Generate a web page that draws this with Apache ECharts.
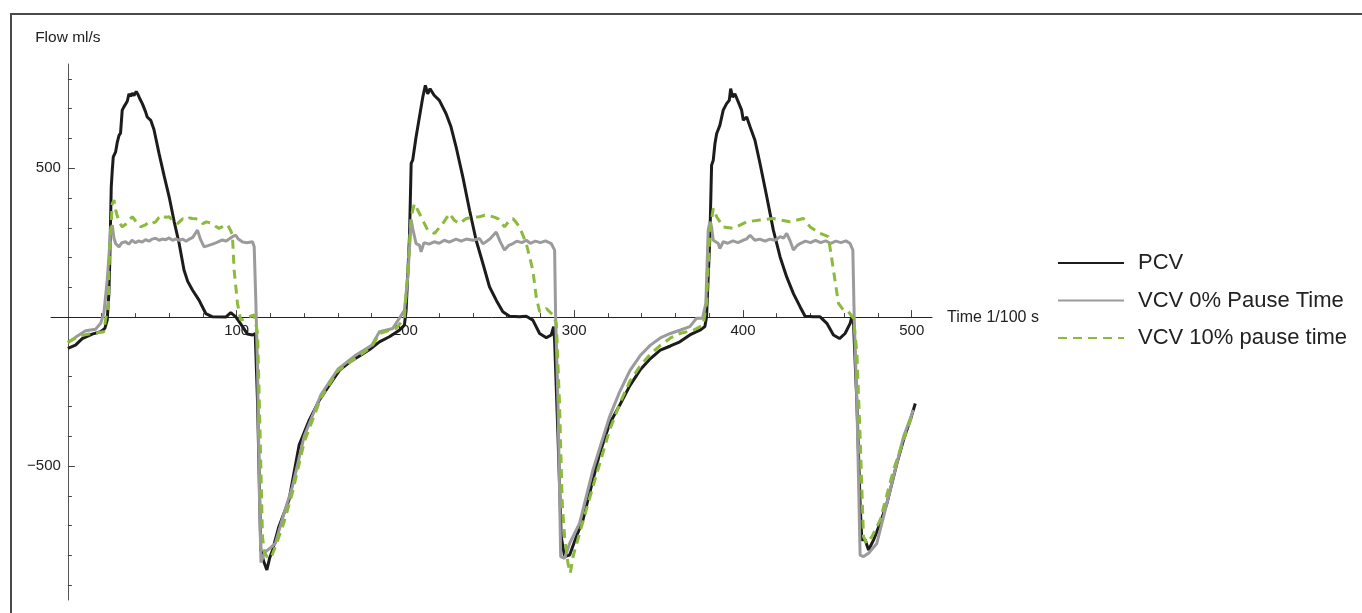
<!DOCTYPE html>
<html><head><meta charset="utf-8">
<script src="https://cdn.jsdelivr.net/npm/echarts@6/dist/echarts.min.js"></script>
<style>html,body{margin:0;padding:0;background:#fff}#c{width:1362px;height:613px}</style>
</head><body><div id="c"></div>
<script>
// ---- data (time in 1/100 s, flow in ml/s) ----
const seriesNames = ['PCV', 'VCV 0% Pause Time', 'VCV 10% pause time'];
const xMajorTicks = [100, 200, 300, 400, 500];
const xMinorTicks = [20,40,60,80,120,140,160,180,220,240,260,280,320,340,360,380,420,440,460,480];
const yMajorTicks = [-500, 500];
const yMinorTicks = [-900,-800,-700,-600,-400,-300,-200,-100,100,200,300,400,600,700,800];
const xAxisTitle = 'Time 1/100 s';
const yAxisTitle = 'Flow ml/s';
const xRange = [-10, 512];
const yRange = [-950, 850];

const pcv = [[0,-105],[4.5,-94],[8.5,-72],[14.4,-57],[19.4,-49],[21.9,-38],[23.3,-10],[24.3,80],[24.7,158],[25.7,437],[26.3,493],[26.9,538],[28.3,555],[29.3,588],[30.3,610],[31.2,618],[32.2,695],[33.2,706],[34.2,702],[35.2,725],[36.2,750],[37.2,742],[38.2,752],[39.2,744],[40.5,758],[41.5,748],[42.5,735],[44.1,717],[46,690],[47,672],[49.1,661],[51,630],[54,550],[57,475],[60,404],[63,320],[65.9,248],[68.8,158],[71,120],[73.8,91],[77.7,57],[81.7,12],[85.7,1],[93.6,0],[96.5,15],[99.5,1],[103.5,-32],[106.4,-57],[109.4,-60],[111,-55],[112.4,-290],[114.3,-782],[116,-820],[117.9,-849],[119.5,-810],[121.3,-782],[125,-704],[131,-614],[137,-430],[143,-346],[149,-279],[155,-228],[161,-178],[167,-151],[173,-130],[179,-108],[184.6,-83],[190.5,-66],[196.4,-44],[199.4,-27],[200.4,23],[202.4,270],[203.4,516],[204.3,527],[206.3,605],[208.3,672],[210.3,739],[211.8,778],[213.2,750],[214.6,767],[217,745],[220.1,728],[224.1,683],[227,639],[230,572],[234,471],[238,359],[241.9,258],[245.9,180],[249.8,102],[253.8,57],[257.7,18],[261.7,3],[267.6,1],[271.6,3],[275.5,-10],[279.5,-55],[283.5,-69],[286.4,-60],[287.8,-32],[288.4,-80],[290.4,-402],[292.3,-737],[294.3,-804],[297.3,-799],[301.3,-737],[305.2,-681],[311.1,-547],[315.1,-458],[321,-357],[327,-295],[333,-230],[339,-178],[345,-140],[351,-111],[357,-97],[362.6,-83],[368.5,-60],[374.5,-44],[377.4,-32],[378.4,0],[380.4,270],[381.4,510],[382.4,527],[383.4,583],[384.4,616],[386.3,644],[388.3,695],[390.3,717],[391.9,728],[392.7,767],[393.9,739],[395.2,750],[397.2,723],[399.2,695],[400.2,661],[402.2,672],[404.2,639],[407.1,594],[410.1,516],[414.1,404],[418,292],[422,202],[425.9,135],[429.9,79],[433.8,35],[436.8,3],[441.7,1],[445.7,1],[449.7,-21],[453.6,-60],[457.2,-72],[460.5,-55],[463.5,-21],[464.5,1],[465.5,-21],[467.5,-290],[469.4,-625],[470.4,-748],[472.4,-748],[474.4,-782],[477.4,-748],[481.3,-692],[485.3,-625],[491.2,-491],[495.1,-413],[499.1,-346],[502.1,-290]];

const vcv0 = [[0,-86],[4.5,-68],[10.5,-46],[16.4,-41],[19.4,-21],[21.3,12],[23.3,124],[24.3,202],[25.3,292],[26.3,309],[27.3,265],[28.3,247],[30.3,236],[32,250],[34.2,253],[36,245],[38,258],[40,250],[42,256],[44,252],[46,260],[48,255],[50,262],[52,265],[54,258],[56,262],[58,260],[60,266],[62,258],[64,263],[66,258],[68,262],[70,255],[72,262],[74,268],[76.8,292],[78.5,262],[80.7,236],[83,240],[85.7,245],[88,250],[91.6,259],[93.6,255],[95.5,262],[97.5,270],[99.5,275],[101,262],[103.5,252],[106,250],[109.4,253],[110.4,236],[111.4,46],[112.4,-178],[113.5,-600],[114.4,-824],[116,-800],[117.3,-787],[120,-775],[123,-759],[128,-659],[133,-570],[140,-400],[150,-260],[160,-175],[170,-130],[180,-95],[184.6,-49],[192.5,-38],[196.4,-4],[199.4,23],[201.4,135],[203.4,326],[204.3,298],[206.3,247],[208.3,242],[209.3,219],[211,250],[214,245],[217,253],[220,248],[223,258],[226,252],[230,262],[233,255],[236,262],[240,258],[243.9,264],[246,246],[250,262],[253.8,286],[256,255],[258.7,225],[261,240],[263.7,247],[266,255],[269,250],[271.6,258],[274,248],[277,255],[280,250],[283,256],[286.4,247],[288.4,225],[289,0],[290.4,-290],[292,-804],[294.3,-810],[297.3,-760],[303.2,-692],[311.1,-513],[321,-334],[327,-250],[333,-180],[339,-130],[345,-95],[351,-70],[357,-55],[362.6,-44],[368.5,-32],[372.5,-4],[376,-4],[378,46],[379.4,292],[380.4,320],[381.4,303],[382.4,258],[385.4,247],[386.3,230],[388.3,253],[391,248],[394,256],[397,250],[400,258],[402,262],[404.2,275],[407,258],[410,262],[413,255],[416,262],[419,258],[422,270],[424,265],[425.9,281],[428,255],[429.9,225],[432,240],[433.8,247],[437,255],[440,250],[443,258],[446,250],[449,256],[452,248],[455,255],[458,250],[461,256],[463.5,247],[465.1,225],[465.9,0],[467.5,-290],[469.4,-799],[471.4,-804],[474.4,-793],[479.3,-760],[483.3,-670],[489.2,-536],[495.1,-402],[501,-312]];

const vcv10 = [[0,-84],[6.5,-64],[12.4,-57],[21.3,-49],[22.3,-10],[24,40],[24.3,157],[25.5,300],[26.3,381],[27.3,393],[28.5,355],[30.3,320],[32.2,303],[34.2,312],[36,325],[38.2,337],[40.5,320],[43.1,303],[46,310],[48,320],[50,315],[52,320],[54,335],[56,342],[58,335],[60,337],[62,325],[65,314],[68,330],[70,325],[72,333],[73.8,331],[76,330],[78,325],[80,314],[82,320],[85.7,314],[87.5,305],[89.6,298],[92,305],[94.6,310],[96.5,290],[97.5,275],[98.5,158],[100.5,46],[102.4,-10],[105,-5],[107.4,1],[110.4,7],[112.4,-55],[113.5,-300],[115.3,-737],[116.5,-790],[118,-805],[120.3,-809],[123,-770],[128,-690],[133,-590],[140,-420],[150,-270],[160,-180],[170,-140],[180,-100],[184.6,-55],[194.4,-38],[199.4,-4],[201.4,158],[203.4,337],[205.3,381],[208.3,348],[213.2,292],[217.2,281],[222.1,314],[226.1,348],[229,325],[232,314],[236,331],[240,335],[243.9,337],[247,342],[250,340],[253,335],[255,330],[258.7,303],[261,320],[263.7,331],[266,315],[267.6,303],[271.6,247],[275.5,158],[277.5,68],[279.5,18],[283.5,29],[287.4,7],[289.4,-21],[291.3,-290],[292.9,-625],[294.3,-737],[296.3,-827],[297.7,-860],[299.3,-804],[303.2,-726],[311.1,-569],[321,-379],[327,-290],[333,-215],[339,-165],[345,-125],[351,-95],[357,-70],[362.6,-55],[370.5,-44],[376.4,-27],[378.4,46],[380.4,292],[382.4,365],[384.4,337],[388.3,303],[394.3,298],[402.2,320],[410.1,326],[418,331],[427.9,320],[435.8,331],[439.8,303],[445.7,281],[450.6,270],[453.6,158],[456.6,46],[459.6,23],[462.5,18],[465.5,-4],[467.5,-122],[469.4,-402],[471.4,-737],[473.4,-760],[476.4,-737],[481.3,-681],[489.2,-513],[495.1,-413],[501,-318]];

// ---- layout ----
const W = 1362, H = 613;
const G = {left: 51, right: 430, top: 64, bottom: 13};
const plotW = W - G.left - G.right, plotH = H - G.top - G.bottom;
// pixel of x=0 and y=0 inside the main grid (so the axes can cross at the origin)
const x0px = G.left + plotW * (0 - xRange[0]) / (xRange[1] - xRange[0]);
const y0px = G.top + plotH * (yRange[1] - 0) / (yRange[1] - yRange[0]);

const FONT = '"Liberation Sans", Arial, sans-serif';
const TXT = '#222';
const AXC = '#444';
const chart = echarts.init(document.getElementById('c'), null, {renderer: 'canvas'});
const fmt = v => (v < 0 ? '\u2212' + Math.abs(v) : String(v));
const hidden = (extra) => Object.assign({type: 'value', show: false, axisLine: {onZero: false}, splitLine: {show: false}}, extra);

chart.setOption({
  animation: false,
  backgroundColor: '#fff',
  textStyle: {fontFamily: FONT},
  graphic: [{type: 'rect', shape: {x: 11, y: 14, width: 1500, height: 800}, style: {fill: 'none', stroke: '#4a4a4a', lineWidth: 2}, silent: true}],
  grid: [
    {left: G.left, right: G.right, top: G.top, bottom: G.bottom},                 // plot
    {left: G.left, right: G.right, top: G.top, bottom: H - y0px},                  // x axis along y=0
    {left: x0px, right: G.right, top: G.top, bottom: G.bottom}                     // y axis along x=0
  ],
  legend: {
    orient: 'vertical', left: 1057, top: 250, padding: 0,
    itemWidth: 66, itemHeight: 14, itemGap: 11.5,
    itemStyle: {opacity: 0},
    textStyle: {fontSize: 22, color: TXT, fontFamily: FONT, lineHeight: 26, padding: [0, 0, 0, 9]},
    data: seriesNames
  },
  xAxis: [
    hidden({gridIndex: 0, min: xRange[0], max: xRange[1]}),
    {
      gridIndex: 1, type: 'value', min: xRange[0], max: xRange[1], position: 'bottom',
      axisLine: {show: true, onZero: false, lineStyle: {color: '#222', width: 1}},
      axisTick: {show: true, inside: true, length: 7, customValues: xMajorTicks, lineStyle: {color: AXC}},
      axisLabel: {show: true, customValues: xMajorTicks, color: TXT, fontSize: 15, margin: 6, fontFamily: FONT},
      splitLine: {show: false},
      name: xAxisTitle, nameLocation: 'end', nameGap: 15,
      nameTextStyle: {fontSize: 16, color: TXT, fontFamily: FONT}
    },
    {
      gridIndex: 1, type: 'value', min: xRange[0], max: xRange[1], position: 'bottom',
      axisLine: {show: false, onZero: false},
      axisTick: {show: true, inside: true, length: 4, customValues: xMinorTicks, lineStyle: {color: AXC}},
      axisLabel: {show: false}, splitLine: {show: false}
    },
    hidden({gridIndex: 2, min: 0, max: xRange[1]})
  ],
  yAxis: [
    hidden({gridIndex: 0, min: yRange[0], max: yRange[1]}),
    hidden({gridIndex: 1, min: 0, max: yRange[1]}),
    {
      gridIndex: 2, type: 'value', min: yRange[0], max: yRange[1], position: 'left',
      axisLine: {show: true, onZero: false, lineStyle: {color: '#555', width: 1}},
      axisTick: {show: true, inside: true, length: 7, customValues: yMajorTicks, lineStyle: {color: AXC}},
      axisLabel: {show: true, customValues: yMajorTicks, formatter: fmt, color: TXT, fontSize: 15, margin: 7, fontFamily: FONT},
      splitLine: {show: false},
      name: yAxisTitle, nameLocation: 'end', nameGap: 18,
      nameTextStyle: {fontSize: 15.5, color: TXT, fontFamily: FONT}
    },
    {
      gridIndex: 2, type: 'value', min: yRange[0], max: yRange[1], position: 'left',
      axisLine: {show: false, onZero: false},
      axisTick: {show: true, inside: true, length: 4, customValues: yMinorTicks, lineStyle: {color: AXC}},
      axisLabel: {show: false}, splitLine: {show: false}
    }
  ],
  series: [
    {name: seriesNames[0], type: 'line', xAxisIndex: 0, yAxisIndex: 0, data: pcv, symbol: 'none', smooth: false, z: 3,
     lineStyle: {color: '#1c1c1c', width: 3}, itemStyle: {color: '#1c1c1c'}},
    {name: seriesNames[1], type: 'line', xAxisIndex: 0, yAxisIndex: 0, data: vcv0, symbol: 'none', smooth: false, z: 4,
     lineStyle: {color: '#9b9b9b', width: 3}, itemStyle: {color: '#9b9b9b'}},
    {name: seriesNames[2], type: 'line', xAxisIndex: 0, yAxisIndex: 0, data: vcv10, symbol: 'none', smooth: false, z: 5,
     lineStyle: {color: '#8cba3c', width: 3, type: [9, 6]}, itemStyle: {color: '#8cba3c'}}
  ]
});
</script></body></html>
